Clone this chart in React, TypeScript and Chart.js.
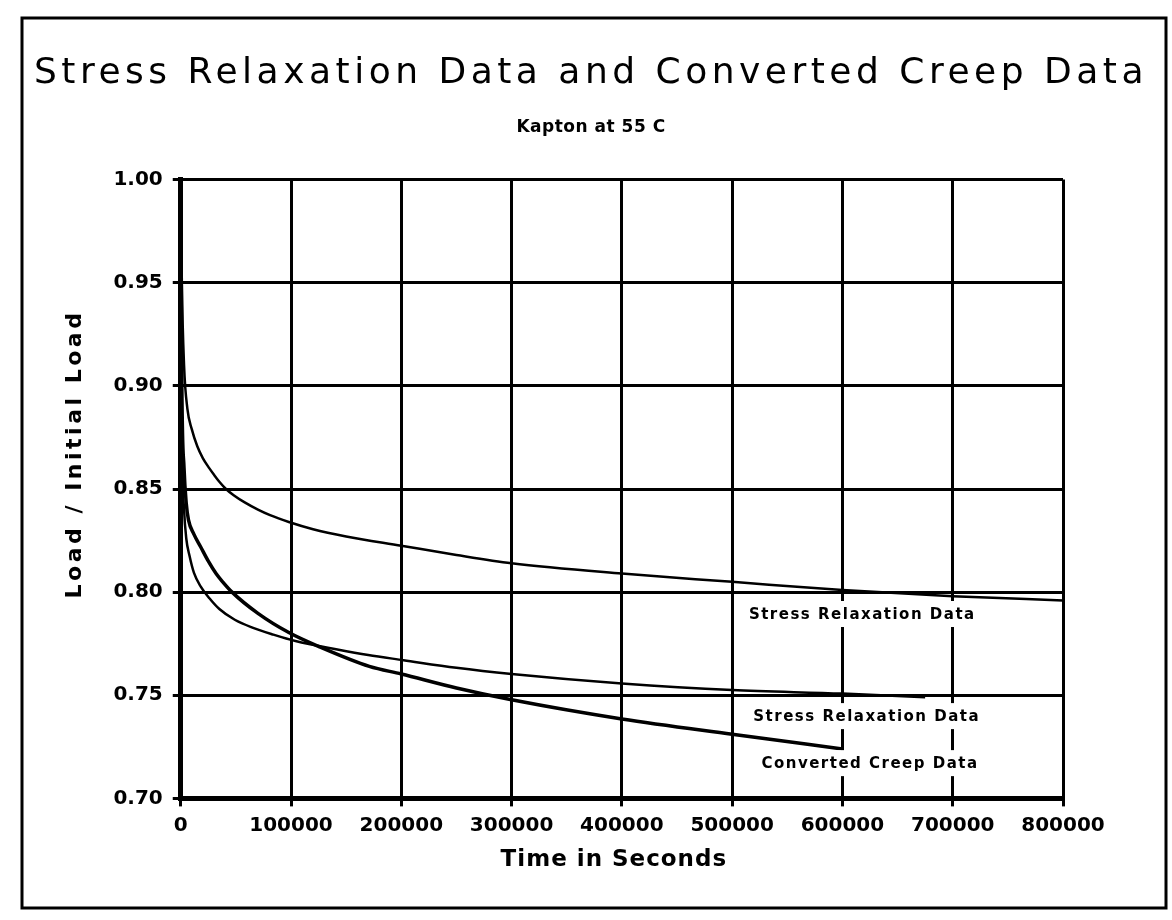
import React, { useEffect, useRef } from 'react';
import { Chart, registerables } from 'chart.js';

Chart.register(...registerables);

const TITLE = 'Stress Relaxation Data and Converted Creep Data';
const SUBTITLE = 'Kapton at 55 C';
const X_TITLE = 'Time in Seconds';
const Y_TITLE = 'Load / Initial Load';

const X_TICKS = ['0', '100000', '200000', '300000', '400000', '500000', '600000', '700000', '800000'];
const Y_TICKS = ['0.70', '0.75', '0.80', '0.85', '0.90', '0.95', '1.00'];

// Upper stress relaxation curve
const RELAX1_T = [0, 1000, 3000, 6000, 10000, 15000, 20000, 26000, 30000, 35000, 41000, 48000, 58000, 70000, 81000, 98000, 120000, 150000, 200000, 250000, 300000, 400000, 500000, 600000, 700000, 800000];
const RELAX1_V = [1.0, 0.95, 0.91, 0.889, 0.879, 0.8707, 0.865, 0.860, 0.857, 0.8535, 0.850, 0.847, 0.8435, 0.840, 0.8373, 0.834, 0.8305, 0.827, 0.8225, 0.818, 0.814, 0.809, 0.805, 0.801, 0.798, 0.796];

// Lower stress relaxation curve
const RELAX2_T = [0, 1000, 3000, 5000, 8000, 12000, 18000, 26000, 35000, 49000, 65000, 84000, 104000, 142000, 170000, 202000, 250000, 300000, 400000, 500000, 600000, 675000];
const RELAX2_V = [1.0, 0.88, 0.84, 0.826, 0.8175, 0.8093, 0.8028, 0.797, 0.7918, 0.7866, 0.7828, 0.7794, 0.7763, 0.7722, 0.7695, 0.767, 0.7633, 0.7603, 0.7557, 0.7525, 0.7508, 0.749];

// Converted creep curve
const CREEP_T = [0, 1000, 3000, 5000, 7000, 12000, 18000, 25000, 32000, 38000, 46500, 70000, 98000, 127000, 171000, 200000, 250000, 300000, 400000, 500000, 600000];
const CREEP_V = [1.0, 0.9, 0.86, 0.843, 0.835, 0.828, 0.822, 0.815, 0.809, 0.805, 0.8, 0.7897, 0.7804, 0.7732, 0.764, 0.7603, 0.7535, 0.7478, 0.7385, 0.7311, 0.724];

const LABEL_TEXT = ['Stress Relaxation Data', 'Stress Relaxation Data', 'Converted Creep Data'];
const LABEL_T = [618000, 622000, 625000];
const LABEL_V = [0.7894, 0.7399, 0.7171];

const FONT = 'DejaVu Sans';

function wrapDraw(obj: any, method: string, px: number, dx = 0, dy = 0) {
  const orig = obj[method];
  if (!orig || orig.__spaced) return;
  const f = function (this: any, ...args: any[]) {
    const ctx = this.ctx;
    ctx.save();
    ctx.letterSpacing = px + 'px';
    ctx.translate(dx, dy);
    try {
      return orig.apply(this, args);
    } finally {
      ctx.restore();
      ctx.letterSpacing = '0px';
    }
  };
  (f as any).__spaced = true;
  obj[method] = f;
}

const spacingPlugin = {
  id: 'spacingPlugin',
  afterLayout(chart: any) {
    chart.boxes.forEach((box: any) => {
      const text = box.options && box.options.text;
      if (text === TITLE) wrapDraw(box, 'draw', 4.5);
      else if (text === SUBTITLE) wrapDraw(box, 'draw', 0.5);
    });
    const xs = chart.scales.x;
    const ys = chart.scales.y;
    if (xs) {
      wrapDraw(xs, 'drawTitle', 1, -8, 0);
      wrapDraw(xs, 'drawLabels', 0);
    }
    if (ys) {
      wrapDraw(ys, 'drawTitle', 3.5, 0, -35);
      wrapDraw(ys, 'drawLabels', 0);
    }
  },
};

const framePlugin = {
  id: 'framePlugin',
  beforeDraw(chart: any) {
    const ctx = chart.ctx;
    ctx.save();
    ctx.fillStyle = '#ffffff';
    ctx.fillRect(0, 0, chart.width, chart.height);
    ctx.strokeStyle = '#000000';
    ctx.lineWidth = 3;
    ctx.strokeRect(22, 18, 1144, 890);
    ctx.restore();
  },
};

const labelPlugin = {
  id: 'labelPlugin',
  afterDatasetsDraw(chart: any) {
    const ctx = chart.ctx;
    const xs = chart.scales.x;
    const ys = chart.scales.y;
    ctx.save();
    ctx.font = `bold 15px ${FONT}`;
    (ctx as any).letterSpacing = '1.5px';
    ctx.textAlign = 'center';
    ctx.textBaseline = 'middle';
    LABEL_TEXT.forEach((t, i) => {
      const px = xs.getPixelForValue(LABEL_T[i]);
      const py = ys.getPixelForValue(LABEL_V[i]);
      const w = ctx.measureText(t).width;
      ctx.fillStyle = '#ffffff';
      ctx.fillRect(px - w / 2 - 4, py - 13, w + 8, 26);
      ctx.fillStyle = '#000000';
      ctx.fillText(t, px, py + 1);
    });
    ctx.restore();
    (ctx as any).letterSpacing = '0px';
  },
};

function pts(t: number[], v: number[]) {
  return t.map((x, i) => ({ x, y: v[i] }));
}

export default function App() {
  const ref = useRef<HTMLCanvasElement | null>(null);

  useEffect(() => {
    if (!ref.current) return;
    Chart.defaults.font.family = FONT;
    Chart.defaults.color = '#000000';
    const line = (data: any, w: number) => ({
      data,
      borderColor: '#000000',
      borderWidth: w,
      pointRadius: 0,
      fill: false,
      cubicInterpolationMode: 'monotone' as const,
    });
    const chart = new Chart(ref.current, {
      type: 'line',
      data: {
        datasets: [
          { label: 'Stress Relaxation Data', ...line(pts(RELAX1_T, RELAX1_V), 2.5) },
          { label: 'Stress Relaxation Data ', ...line(pts(RELAX2_T, RELAX2_V), 2.5) },
          { label: 'Converted Creep Data', ...line(pts(CREEP_T, CREEP_V), 3.5) },
        ],
      },
      options: {
        responsive: false,
        devicePixelRatio: 1,
        animation: false,
        events: [],
        layout: { padding: { left: 30, right: 20, top: 20, bottom: 30 } },
        plugins: {
          legend: { display: false },
          tooltip: { enabled: false },
          title: {
            display: true,
            text: TITLE,
            color: '#000000',
            font: { family: FONT, size: 36, weight: 'normal' },
            padding: { top: 32, bottom: 22 },
          },
          subtitle: {
            display: true,
            text: SUBTITLE,
            color: '#000000',
            font: { family: FONT, size: 17, weight: 'bold' },
            padding: { top: 0, bottom: 42 },
          },
        },
        scales: {
          x: {
            type: 'linear',
            min: 0,
            max: 800000,
            ticks: {
              stepSize: 100000,
              autoSkip: false,
              maxRotation: 0,
              padding: 7,
              color: '#000000',
              font: { family: FONT, size: 20, weight: 'bold' },
              callback: (_v: any, i: number) => X_TICKS[i],
            },
            grid: { color: '#000000', lineWidth: 3, tickLength: 8, tickWidth: 3, tickColor: '#000000' },
            border: { color: '#000000', width: 5 },
            title: {
              display: true,
              text: X_TITLE,
              color: '#000000',
              font: { family: FONT, size: 23, weight: 'bold' },
              padding: { top: 2, bottom: 16 },
            },
          },
          y: {
            type: 'linear',
            min: 0.7,
            max: 1.0,
            ticks: {
              stepSize: 0.05,
              autoSkip: false,
              padding: 10,
              color: '#000000',
              font: { family: FONT, size: 20, weight: 'bold' },
              callback: (_v: any, i: number) => Y_TICKS[i],
            },
            grid: { color: '#000000', lineWidth: 3, tickLength: 8, tickWidth: 3, tickColor: '#000000' },
            border: { color: '#000000', width: 5 },
            title: {
              display: true,
              text: Y_TITLE,
              color: '#000000',
              font: { family: FONT, size: 22, weight: 'bold' },
              padding: { top: 32, bottom: 15 },
            },
          },
          y2: {
            type: 'linear',
            position: 'right',
            display: true,
            grid: { display: false, drawOnChartArea: false },
            border: { display: false },
            ticks: { display: false },
            afterFit: (s: any) => {
              s.width = 89;
            },
          },
        },
      },
      plugins: [framePlugin, spacingPlugin, labelPlugin],
    });
    return () => chart.destroy();
  }, []);

  return (
    <div style={{ position: 'absolute', left: 0, top: 0, width: 1172, height: 920, background: '#fff' }}>
      <canvas ref={ref} width={1172} height={920} />
    </div>
  );
}
